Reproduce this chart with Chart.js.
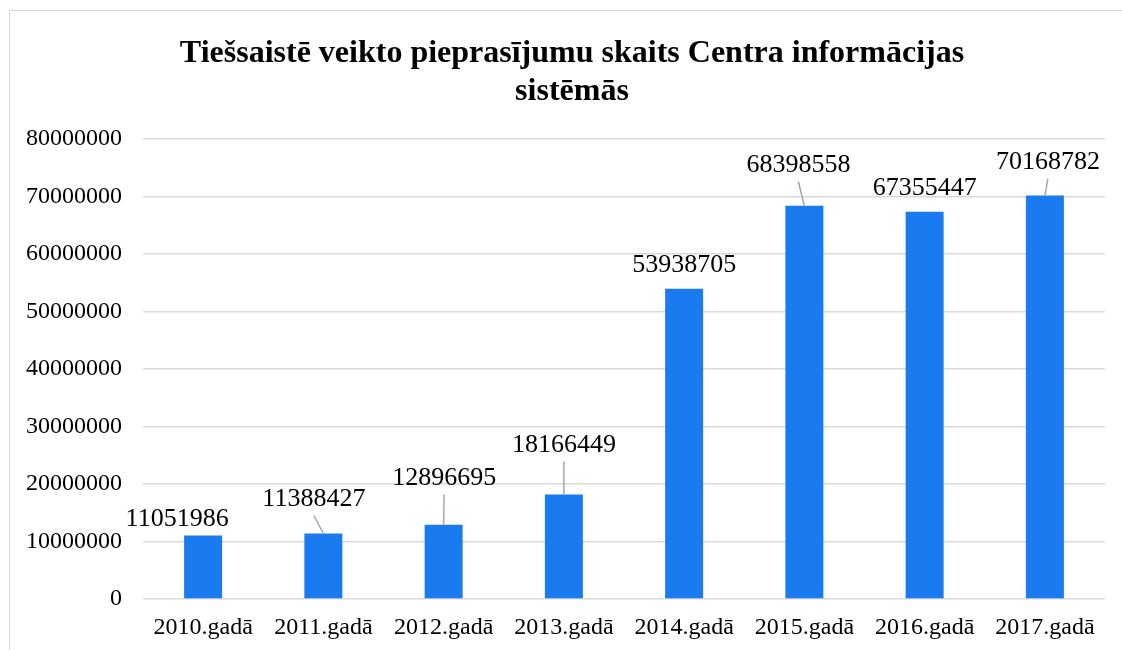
<!DOCTYPE html>
<html>
<head>
<meta charset="utf-8">
<script src="https://cdn.jsdelivr.net/npm/chart.js@4"></script>
<style>
  html, body { margin: 0; padding: 0; background: #fff; overflow: hidden; }
  #frame { position: absolute; left: 9px; top: 10px; width: 1200px; height: 700px; border: 1.5px solid #d9d9d9; }
  #wrap { position: absolute; left: 0; top: 0; width: 1122px; height: 650px; }
</style>
</head>
<body>
<div id="frame"></div>
<div id="wrap"><canvas id="requestsChart" width="1122" height="650"></canvas></div>
<script>
const years = ['2010.gadā', '2011.gadā', '2012.gadā', '2013.gadā', '2014.gadā', '2015.gadā', '2016.gadā', '2017.gadā'];
const requests = [11051986, 11388427, 12896695, 18166449, 53938705, 68398558, 67355447, 70168782];
const titleLines = ['Tiešsaistē veikto pieprasījumu skaits Centra informācijas', 'sistēmās'];

// label positions moved by hand in the original (dx, dy from bar top), plus which ones got a leader line
const labelOffsets = [[-26, -18], [-9.5, -36], [0.5, -48], [0, -51], [0, -25.5], [-6, -42], [0, -25.5], [3, -35]];
const leaderLines = [false, true, true, true, false, true, false, true];

const titlePlugin = {
    id: 'excelTitle',
    afterDraw(chart) {
        const ctx = chart.ctx;
        ctx.save();
        ctx.fillStyle = '#000';
        ctx.font = 'bold 32px "Liberation Serif"';
        ctx.textAlign = 'center';
        ctx.textBaseline = 'alphabetic';
        ctx.fillText(titleLines[0], 572, 62);
        ctx.fillText(titleLines[1], 572, 100);
        ctx.restore();
    }
};

const valueLabels = {
    id: 'valueLabels',
    afterDatasetsDraw(chart) {
        const ctx = chart.ctx;
        const meta = chart.getDatasetMeta(0);
        ctx.save();
        meta.data.forEach((bar, i) => {
            const lx = bar.x + labelOffsets[i][0];
            const ly = bar.y + labelOffsets[i][1];
            if (leaderLines[i]) {
                ctx.strokeStyle = '#a6a6a6';
                ctx.lineWidth = 1.5;
                ctx.beginPath();
                ctx.moveTo(lx, ly + 18);
                ctx.lineTo(bar.x, bar.y);
                ctx.stroke();
            }
            ctx.fillStyle = '#000';
            ctx.font = '26px "Liberation Serif"';
            ctx.textAlign = 'center';
            ctx.textBaseline = 'alphabetic';
            ctx.fillText(String(requests[i]), lx, ly + 8.6);
        });
        ctx.restore();
    }
};

new Chart(document.getElementById('requestsChart'), {
    type: 'bar',
    data: {
        labels: years,
        datasets: [{
            data: requests,
            backgroundColor: '#1a7bf0',
            categoryPercentage: 1,
            barPercentage: 0.316
        }]
    },
    options: {
        responsive: false,
        animation: false,
        layout: { padding: { top: 139, right: 17, bottom: 0, left: 0 } },
        plugins: {
            legend: { display: false },
            tooltip: { enabled: false }
        },
        scales: {
            x: {
                afterFit(scale) { scale.height = 51; },
                grid: { display: false, drawTicks: false },
                border: { display: false },
                ticks: { color: '#000', padding: 14, font: { family: 'Liberation Serif', size: 24 } }
            },
            y: {
                min: 0,
                max: 80000000,
                afterFit(scale) { scale.width = 143; },
                grid: { color: '#d9d9d9', lineWidth: 1.5, drawTicks: false },
                border: { display: false },
                ticks: {
                    stepSize: 10000000,
                    color: '#000',
                    padding: 21,
                    font: { family: 'Liberation Serif', size: 24 },
                    callback: v => String(v)
                }
            }
        }
    },
    plugins: [titlePlugin, valueLabels]
});
</script>
</body>
</html>
